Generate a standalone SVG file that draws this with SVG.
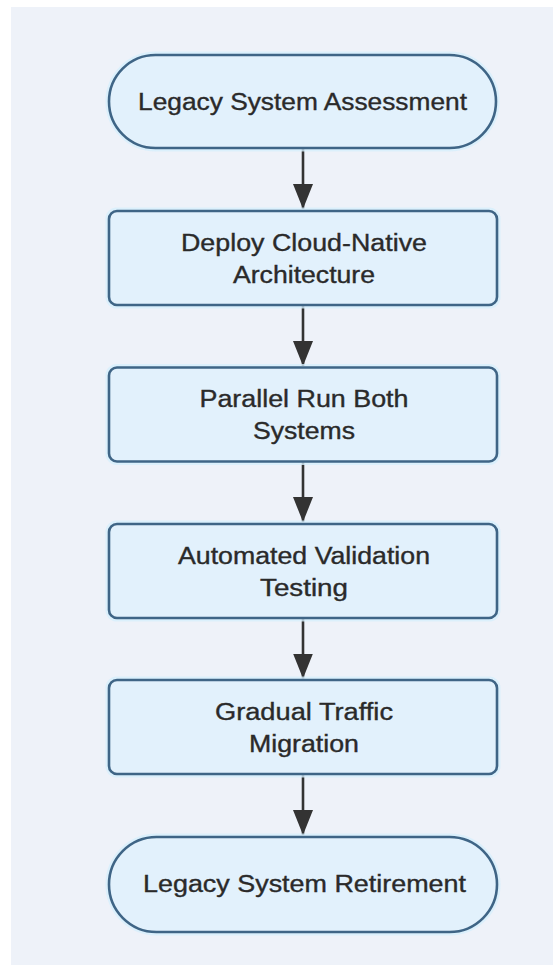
<svg xmlns="http://www.w3.org/2000/svg" width="553" height="965" viewBox="0 0 553 965">
  <defs>
    <style>
      .node-shape { fill: #e2f1fc; stroke: #3f6586; stroke-width: 2.6; }
      .halo { fill: none; stroke: #d6effc; stroke-width: 7; opacity: 0.8; }
      .label { font-family: "Liberation Sans", Arial, sans-serif; font-size: 23px; fill: #2a2a2a; stroke: #2a2a2a; stroke-width: 0.35; text-anchor: middle; }
      .edge { stroke: #333333; stroke-width: 2.6; fill: none; }
    </style>
    <marker id="arrowhead" viewBox="0 0 25 20" refX="25" refY="10" markerWidth="25" markerHeight="20" markerUnits="userSpaceOnUse" orient="auto">
      <path d="M0,0 L25,10 L0,20 Z" fill="#333333"/>
    </marker>
  </defs>

  <!-- page and panel background -->
  <rect x="0" y="0" width="553" height="965" fill="#ffffff"/>
  <rect x="11" y="7" width="542" height="958" fill="#eef2f9"/>

  <!-- connectors -->
  <g id="connectors">
    <line class="edge" x1="303" y1="148.5" x2="303" y2="209" marker-end="url(#arrowhead)"/>
    <line class="edge" x1="303" y1="305" x2="303" y2="366" marker-end="url(#arrowhead)"/>
    <line class="edge" x1="303" y1="461.5" x2="303" y2="522" marker-end="url(#arrowhead)"/>
    <line class="edge" x1="303" y1="618" x2="303" y2="678.5" marker-end="url(#arrowhead)"/>
    <line class="edge" x1="303" y1="774" x2="303" y2="835" marker-end="url(#arrowhead)"/>
  </g>

  <!-- start: stadium -->
  <g id="node-assessment">
    <rect class="halo" x="109" y="55" width="387" height="93" rx="46.5"/>
    <rect class="node-shape" x="109" y="55" width="387" height="93" rx="46.5"/>
    <text class="label" x="302.5" y="110" textLength="329" lengthAdjust="spacingAndGlyphs">Legacy System Assessment</text>
  </g>

  <g id="node-deploy">
    <rect class="halo" x="109" y="211" width="388" height="94" rx="8"/>
    <rect class="node-shape" x="109" y="211" width="388" height="94" rx="8"/>
    <text class="label" x="304" y="250.5" textLength="246" lengthAdjust="spacingAndGlyphs">Deploy Cloud-Native</text>
    <text class="label" x="304" y="282.5" textLength="142" lengthAdjust="spacingAndGlyphs">Architecture</text>
  </g>

  <g id="node-parallel">
    <rect class="halo" x="109" y="367.5" width="388" height="94" rx="8"/>
    <rect class="node-shape" x="109" y="367.5" width="388" height="94" rx="8"/>
    <text class="label" x="304" y="407" textLength="209" lengthAdjust="spacingAndGlyphs">Parallel Run Both</text>
    <text class="label" x="304" y="439" textLength="102" lengthAdjust="spacingAndGlyphs">Systems</text>
  </g>

  <g id="node-validation">
    <rect class="halo" x="109" y="524" width="388" height="94" rx="8"/>
    <rect class="node-shape" x="109" y="524" width="388" height="94" rx="8"/>
    <text class="label" x="304" y="563.5" textLength="252" lengthAdjust="spacingAndGlyphs">Automated Validation</text>
    <text class="label" x="304" y="595.5" textLength="88" lengthAdjust="spacingAndGlyphs">Testing</text>
  </g>

  <g id="node-migration">
    <rect class="halo" x="109" y="680" width="388" height="94" rx="8"/>
    <rect class="node-shape" x="109" y="680" width="388" height="94" rx="8"/>
    <text class="label" x="304" y="719.5" textLength="178" lengthAdjust="spacingAndGlyphs">Gradual Traffic</text>
    <text class="label" x="304" y="751.5" textLength="110" lengthAdjust="spacingAndGlyphs">Migration</text>
  </g>

  <!-- end: stadium -->
  <g id="node-retirement">
    <rect class="halo" x="109" y="837" width="388" height="95" rx="47.5"/>
    <rect class="node-shape" x="109" y="837" width="388" height="95" rx="47.5"/>
    <text class="label" x="304.5" y="892" textLength="323" lengthAdjust="spacingAndGlyphs">Legacy System Retirement</text>
  </g>
</svg>
